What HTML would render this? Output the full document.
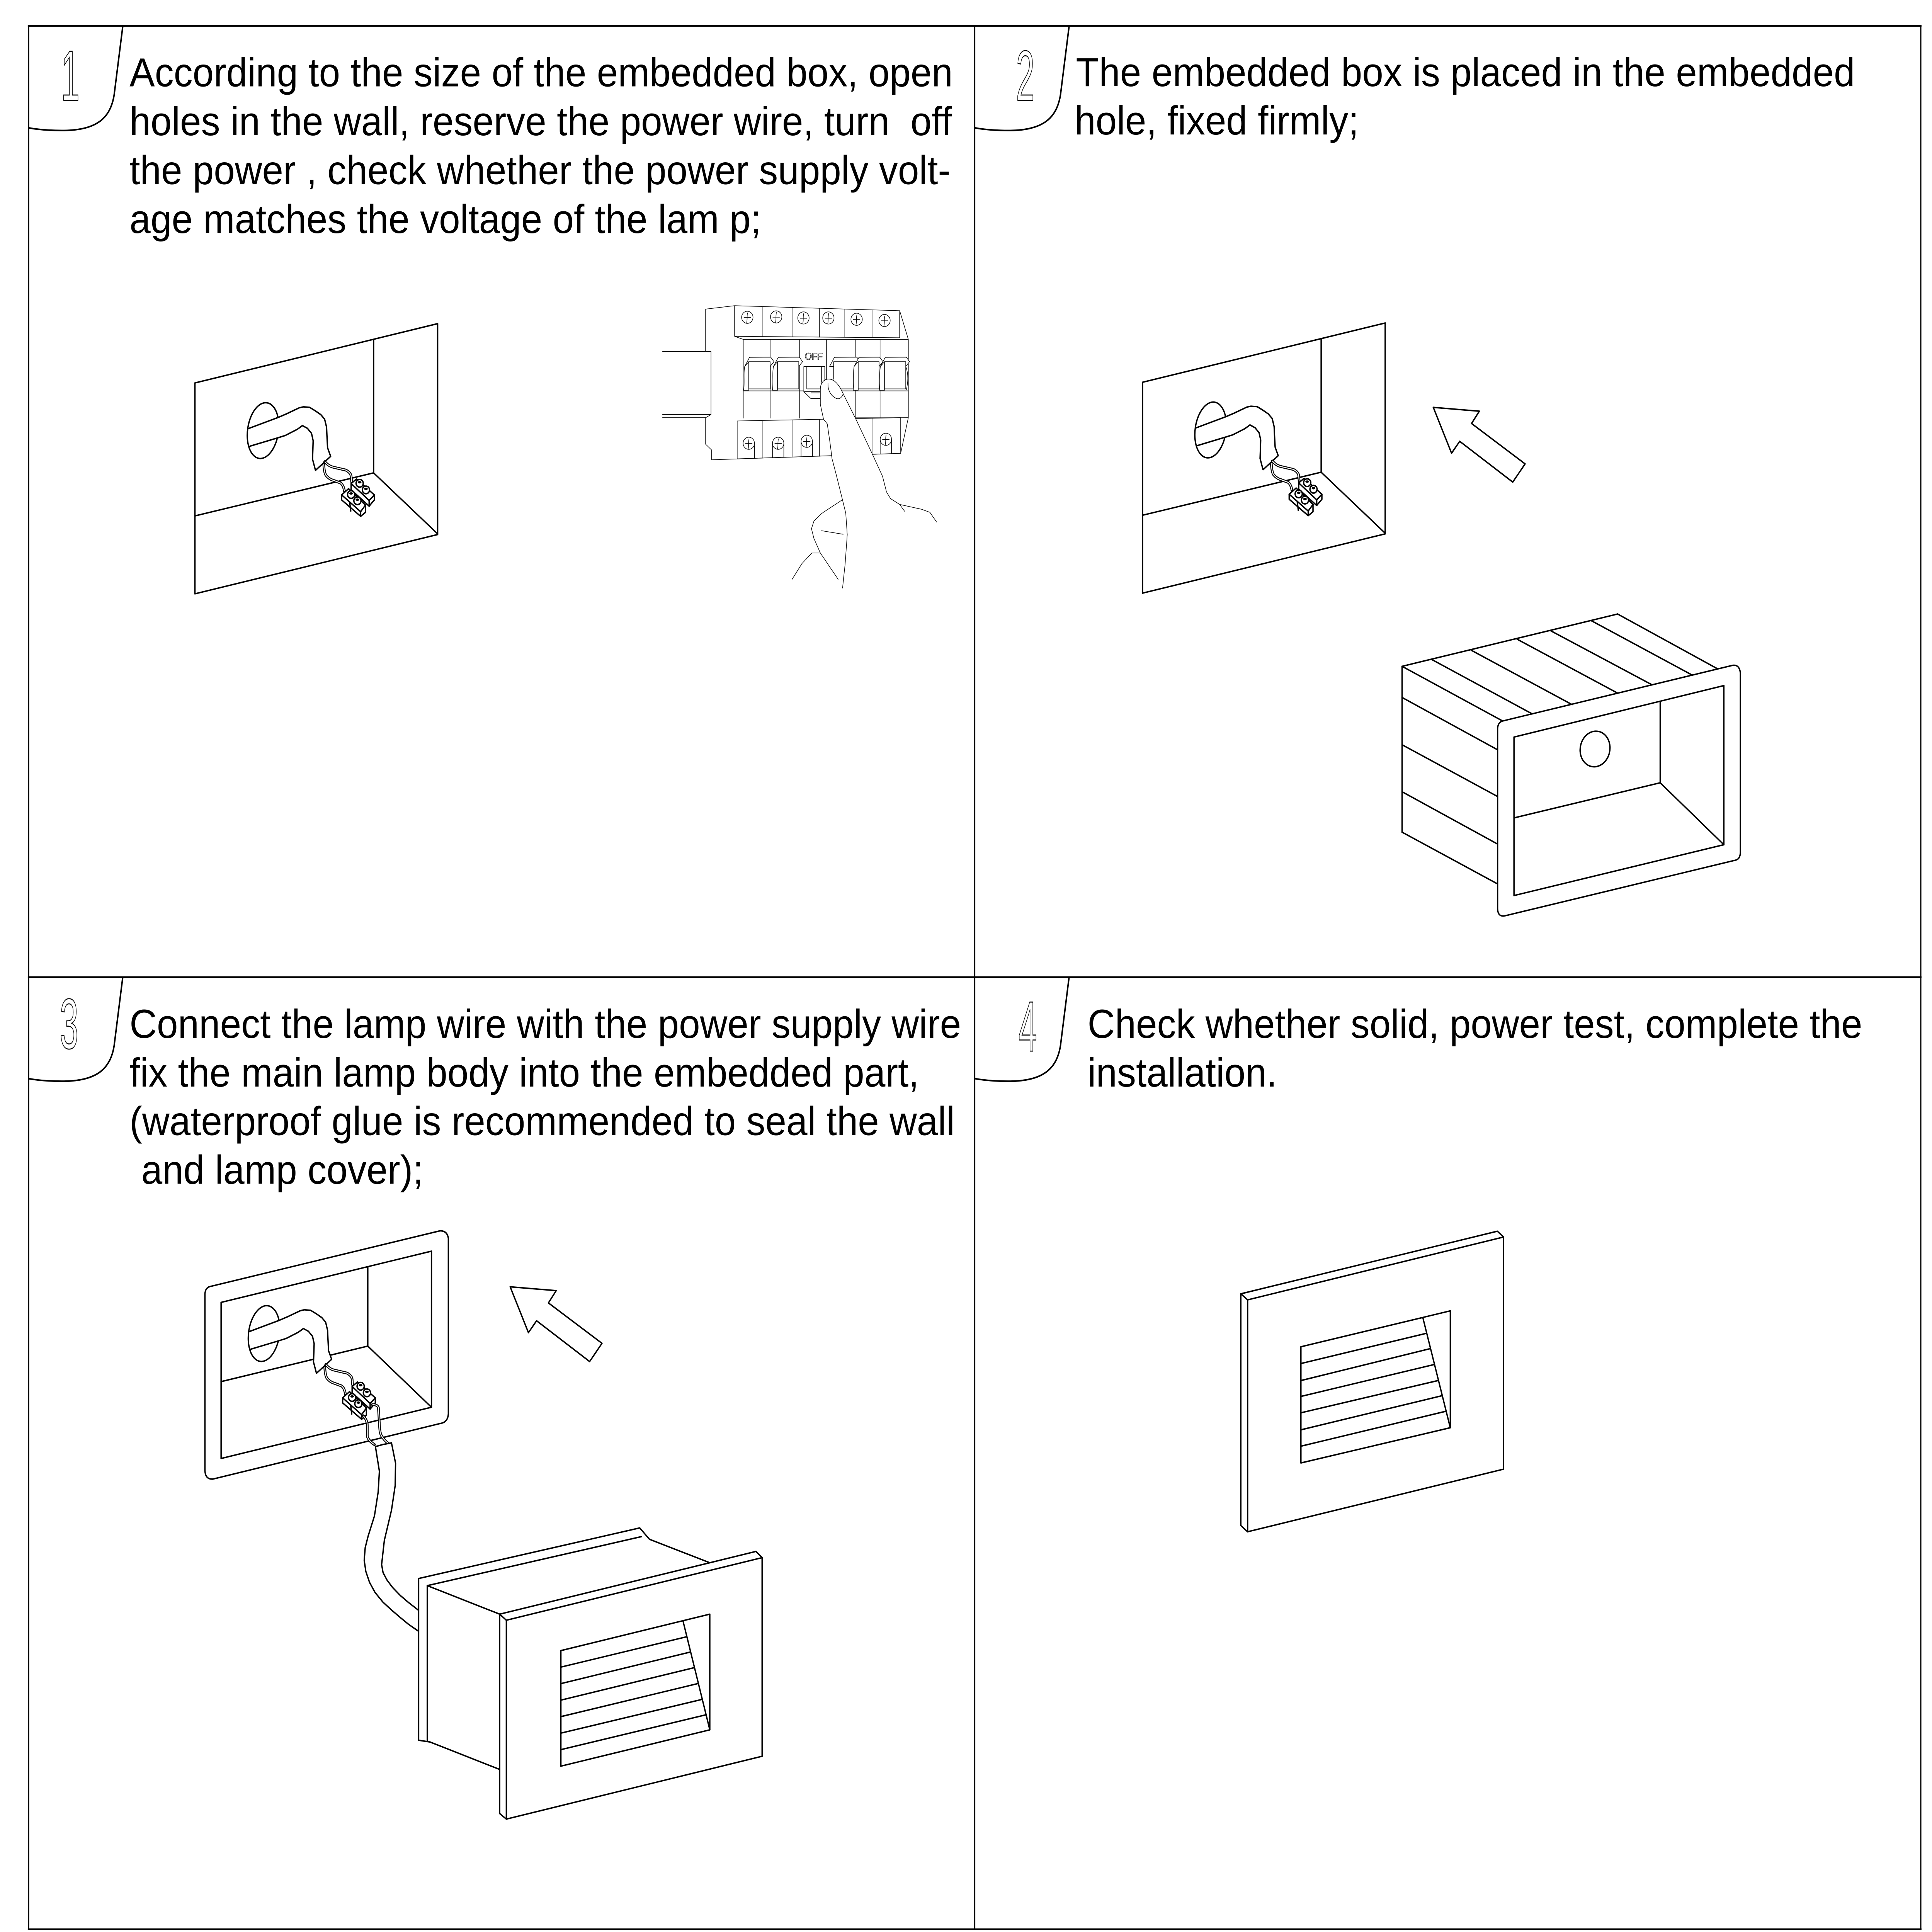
<!DOCTYPE html>
<html><head><meta charset="utf-8">
<style>
html,body{margin:0;padding:0;background:#fff;overflow:hidden;width:100%;height:100%;}
svg{display:block;width:100vw;height:100vh;}
.t{font-family:"Liberation Sans",Arial,sans-serif;font-size:30.7px;fill:#000;white-space:pre;}
.n{font-family:"Liberation Sans",Arial,sans-serif;font-size:54px;fill:none;stroke:#000;stroke-width:0.75;}
.d{fill:none;stroke:#000;stroke-width:1.1;stroke-linejoin:round;stroke-linecap:round;}
.w{fill:#fff;stroke:#000;stroke-width:1.1;stroke-linejoin:round;}
.b{fill:none;stroke:#000;stroke-width:0.45;stroke-linejoin:round;stroke-linecap:round;}
.bw{fill:#fff;stroke:#000;stroke-width:0.45;stroke-linejoin:round;}
</style></head><body>
<svg width="6107" height="5706" viewBox="0 0 1565.9 1463.1" preserveAspectRatio="none" xmlns="http://www.w3.org/2000/svg">
<rect width="1565.9" height="1463.1" fill="#fff"/>
<defs>
  <g id="pipe">
    <ellipse cx="213.2" cy="326.1" rx="12.5" ry="21.3" transform="rotate(9 213.2 326.1)" class="d"/>
    <polygon points="218,318.7 225.5,316.1 232,313.5 242.6,308.8 245.9,308.1 251,308.5 255.7,311.2 260,314 263.1,317.4 264.7,323.6 265,330 265.5,339.1 268,345.6 255.7,356.2 253.3,347.7 253.6,340 253.8,333.7 252.5,328.2 249.2,324.4 245.1,322.3 241,325.1 231.2,329.8 224.7,331.7 218,333.6" fill="#fff" stroke="none"/>
    <polyline class="d" points="201.8,324.4 225.5,316.1 232,313.5 242.6,308.8 245.9,308.1 251,308.5 255.7,311.2 260,314 263.1,317.4 264.7,323.6 265,330 265.5,339.1 268,345.6 255.7,356.2 253.3,347.7 253.6,340 253.8,333.7 252.5,328.2 249.2,324.4 245.1,322.3 241,325.1 231.2,329.8 224.7,331.7 202.6,337.9"/>
    <path d="M263.2,349.6 C265.5,352 267.5,353.2 270.1,353.8 L280.3,356 C283,357.3 284.4,359 284.6,360.7 L285,365" fill="none" stroke="#000" stroke-width="2.1" stroke-linecap="round"/>
    <path d="M263.2,349.6 C265.5,352 267.5,353.2 270.1,353.8 L280.3,356 C283,357.3 284.4,359 284.6,360.7 L285,365" fill="none" stroke="#fff" stroke-width="0.7"/>
    <path d="M262.4,351.3 C262.6,355 263,358 264.1,359.8 C266,362 268,363.2 270.1,363.7 L276.1,365.8 C277.8,367 278.8,369.5 279.1,371.8" fill="none" stroke="#000" stroke-width="2.1" stroke-linecap="round"/>
    <path d="M262.4,351.3 C262.6,355 263,358 264.1,359.8 C266,362 268,363.2 270.1,363.7 L276.1,365.8 C277.8,367 278.8,369.5 279.1,371.8" fill="none" stroke="#fff" stroke-width="0.7"/>
    <polygon class="w" points="284.6,366.2 288.9,362.8 303.4,374.8 303.4,378.6 299.2,383.3 284.6,370.9"/>
    <polyline class="d" points="284.6,366.2 299.2,379 303.4,374.8"/>
    <line class="d" x1="299.2" y1="379" x2="299.2" y2="383.3"/>
    <polygon class="w" points="276.9,374.8 282.5,370.1 296.2,382.5 296.2,388 292.3,391 276.9,378.6"/>
    <polyline class="d" points="276.9,374.8 292.3,387.5 296.2,382.5"/>
    <line class="d" x1="292.3" y1="387.5" x2="292.3" y2="391"/>
    <line class="d" x1="283.5" y1="381" x2="284.3" y2="387"/>
    <g class="w">
      <circle cx="291.5" cy="366" r="2.9"/>
      <circle cx="296.6" cy="371" r="2.9"/>
      <circle cx="284.6" cy="374.5" r="2.9"/>
      <circle cx="289.7" cy="379.2" r="2.9"/>
    </g>
    <g fill="#000">
      <ellipse cx="291.5" cy="365.2" rx="1.5" ry="0.9"/>
      <ellipse cx="296.6" cy="370.2" rx="1.5" ry="0.9"/>
      <ellipse cx="284.6" cy="373.7" rx="1.5" ry="0.9"/>
      <ellipse cx="289.7" cy="378.4" rx="1.5" ry="0.9"/>
    </g>
  </g>
  <g id="wall">
    <polygon class="d" points="158,290 354.7,245.1 354.7,404.8 158,449.7"/>
    <line class="d" x1="302.8" y1="257.1" x2="302.8" y2="358.1"/>
    <line class="d" x1="158" y1="390.7" x2="302.8" y2="358.1"/>
    <line class="d" x1="302.8" y1="358.1" x2="354.7" y2="404.3"/>
    <use href="#pipe"/>
  </g>
  <polygon id="arrow" class="d" points="1161.7,308.5 1199,311.4 1192.7,320.7 1236.1,351.3 1226.1,365.1 1183.1,334.2 1176.5,343.2"/>
  <path id="tab" d="M99.5,20 L92.5,72 C89.5,89 79,98.5 52,98.8 C40,98.9 30,98 23,96.8" fill="none" stroke="#000" stroke-width="1.2"/>
</defs>

<g stroke="#000" fill="none">
  <line x1="22.5" y1="19.6" x2="1557.4" y2="19.6" stroke-width="1.4"/>
  <line x1="22.5" y1="740" x2="1557.4" y2="740" stroke-width="1.3"/>
  <line x1="22.5" y1="1461" x2="1557.4" y2="1461" stroke-width="1.3"/>
  <line x1="23.2" y1="19" x2="23.2" y2="1461.6" stroke-width="1"/>
  <line x1="790" y1="19" x2="790" y2="1461.6" stroke-width="1"/>
  <line x1="1556.8" y1="19" x2="1556.8" y2="1461.6" stroke-width="1"/>
</g>

<use href="#tab"/>
<use href="#tab" transform="translate(767,0)"/>
<use href="#tab" transform="translate(0,720)"/>
<use href="#tab" transform="translate(767,720)"/>

<text class="n" text-anchor="middle" transform="translate(57,76) scale(0.5,1)">1</text>
<text class="n" text-anchor="middle" transform="translate(831,76) scale(0.5,1)">2</text>
<text class="n" text-anchor="middle" transform="translate(56,794) scale(0.5,1)">3</text>
<text class="n" text-anchor="middle" transform="translate(833,796) scale(0.5,1)">4</text>

<text class="t" x="105" y="65.4">According to the size of the embedded box, open</text>
<text class="t" x="105" y="102.4">holes in the wall, reserve the power wire, turn  off</text>
<text class="t" x="105" y="139.4">the power , check whether the power supply volt-</text>
<text class="t" x="105" y="176.4">age matches the voltage of the lam p;</text>

<text class="t" x="872" y="65.2">The embedded box is placed in the embedded</text>
<text class="t" x="871" y="101.9">hole, fixed firmly;</text>

<text class="t" x="105" y="786">Connect the lamp wire with the power supply wire</text>
<text class="t" x="105" y="822.8">fix the main lamp body into the embedded part,</text>
<text class="t" x="105" y="859.6">(waterproof glue is recommended to seal the wall</text>
<text class="t" x="114.5" y="896.5">and lamp cover);</text>

<text class="t" x="881.5" y="786">Check whether solid, power test, complete the</text>
<text class="t" x="881.5" y="822.8">installation.</text>

<use href="#wall"/>

<g>
  <polyline class="b" points="537,266.2 576.3,266.2 576.3,313.9 537,313.9"/>
  <polyline class="b" points="537,316.3 572,316.3 576.3,313.9"/>
  <polyline class="b" points="571.9,266.2 571.9,234.1 595.4,231.5"/>
  <polyline class="b" points="571.9,316.3 571.9,336.4 576.8,340.8 576.8,348.2 730,343.3"/>
  <polygon class="bw" points="595.4,231.5 729.2,235.3 729.2,255.8 595.4,254.7"/>
  <line class="b" x1="729.2" y1="235.3" x2="736.2" y2="257"/>
  <g class="b">
    <line x1="618.3" y1="232.2" x2="618.3" y2="255"/>
    <line x1="642" y1="232.8" x2="642" y2="255.1"/>
    <line x1="664.1" y1="233.5" x2="664.1" y2="255.3"/>
    <line x1="684.2" y1="234" x2="684.2" y2="255.4"/>
    <line x1="706.8" y1="234.7" x2="706.8" y2="255.6"/>
  </g>
  <g class="b">
    <circle cx="605.7" cy="240.3" r="4.6"/><path d="M603,240.5 H608.4 M605.9,237 C605.2,239.5 605.9,241.5 605.2,244.5"/>
    <circle cx="629.1" cy="240" r="4.6"/><path d="M626.4,240.2 H631.8 M629.3,236.7 C628.6,239.2 629.3,241.2 628.6,244.2"/>
    <circle cx="651.2" cy="240.8" r="4.6"/><path d="M648.5,241 H653.9 M651.4,237.5 C650.7,240 651.4,242 650.7,245"/>
    <circle cx="671.4" cy="240.8" r="4.6"/><path d="M668.7,241 H674.1 M671.6,237.5 C670.9,240 671.6,242 670.9,245"/>
    <circle cx="694.3" cy="241.8" r="4.6"/><path d="M691.6,242 H697 M694.5,238.5 C693.8,241 694.5,243 693.8,246"/>
    <circle cx="716.9" cy="242.7" r="4.6"/><path d="M714.2,242.9 H719.6 M717.1,239.4 C716.4,241.9 717.1,243.9 716.4,246.9"/>
  </g>
  <polyline class="b" points="595.4,254.7 602.4,257 736.2,257"/>
  <g class="b">
    <line x1="602.4" y1="257" x2="602.4" y2="316.6"/>
    <line x1="624.8" y1="257" x2="624.8" y2="316.6"/>
    <line x1="647.9" y1="257" x2="647.9" y2="316.6"/>
    <line x1="669.8" y1="257" x2="669.8" y2="296"/>
    <line x1="693.2" y1="257" x2="693.2" y2="316.6"/>
    <line x1="713.3" y1="257" x2="713.3" y2="316.6"/>
    <line x1="736.2" y1="257" x2="736.2" y2="316.3"/>
    <line x1="602.4" y1="296" x2="736.2" y2="296"/>
    <line x1="693.2" y1="316.4" x2="736.2" y2="316.3"/>
    <line x1="736.2" y1="316.3" x2="730" y2="343.3"/>
  </g>
  <polygon class="bw" points="597.5,318.8 730,316.3 730,343.3 597.5,347.5"/>
  <g class="b">
    <line x1="618.3" y1="318.4" x2="618.3" y2="346.9"/>
    <line x1="642" y1="318" x2="642" y2="346.2"/>
    <line x1="664.1" y1="317.6" x2="664.1" y2="345.5"/>
    <line x1="706.8" y1="316.8" x2="706.8" y2="344"/>
    <circle cx="606.9" cy="335.7" r="4.6"/><path d="M604.2,335.9 H609.6 M607.1,332.4 C606.4,334.9 607.1,336.9 606.4,339.9 M611.5,336 V347.2"/>
    <circle cx="630.7" cy="335.7" r="4.6"/><path d="M628,335.9 H633.4 M630.9,332.4 C630.2,334.9 630.9,336.9 630.2,339.9 M626.1,336 V346.6 M635.3,336 V346.4"/>
    <circle cx="653.9" cy="334.2" r="4.6"/><path d="M651.2,334.4 H656.6 M654.1,330.9 C653.4,333.4 654.1,335.4 653.4,338.4 M649.3,334.5 V346 M658.5,334.5 V345.8"/>
    <circle cx="718" cy="332.7" r="4.6"/><path d="M715.3,332.9 H720.7 M718.2,329.4 C717.5,331.9 718.2,333.9 717.5,336.9 M713.4,333 V343.7 M722.6,333 V343.5"/>
  </g>
  <g class="bw">
    <path d="M603.6,277.5 L607.5,270.6 L624.7,270.5 L627.3,273.9 L624.2,277.5 Z"/>
    <path d="M603.6,277.5 C602.5,283 603.6,289 602.8,295.5 L606.9,295.5 L606.9,273.9 Z"/>
    <rect x="606.9" y="273.9" width="17.3" height="20.6"/>
    <path d="M626.9,277.5 L630.8,270.6 L647.9,270.5 L650.5,273.9 L647.4,277.5 Z"/>
    <path d="M626.9,277.5 C625.8,283 626.9,289 626.1,295.5 L630.2,295.5 L630.2,273.9 Z"/>
    <rect x="630.2" y="273.9" width="17.2" height="20.6"/>
    <path d="M672.4,277.5 L676.3,270.6 L694.5,270.5 L697.1,273.9 L694,277.5 Z"/>
    <rect x="675.7" y="273.9" width="18.3" height="20.6"/>
    <path d="M692.3,277.5 L696.2,270.6 L713,270.5 L715.6,273.9 L712.5,277.5 Z"/>
    <path d="M692.3,277.5 C691.2,283 692.3,289 691.5,295.5 L695.6,295.5 L695.6,273.9 Z"/>
    <rect x="695.6" y="273.9" width="16.9" height="20.6"/>
    <path d="M713.6,277.5 L717.5,270.6 L734.6,270.5 L737.2,273.9 L734.1,277.5 Z"/>
    <path d="M713.6,277.5 C712.5,283 713.6,289 712.8,295.5 L716.9,295.5 L716.9,273.9 Z"/>
    <rect x="716.9" y="273.9" width="17.2" height="20.6"/>
    <path d="M734.1,277.5 C736.5,283 736,290 734.5,295.5"/>
  </g>
  <g class="bw">
    <rect x="651.5" y="277.6" width="17" height="19"/>
    <rect x="653.9" y="277.6" width="12" height="16.9"/>
    <polygon points="651.5,296.6 657.2,301.8 668,301.8 668,296.6"/>
    <line x1="657.2" y1="297.5" x2="668" y2="297.5"/>
  </g>
  <text x="652.3" y="272.4" font-family="Liberation Sans, sans-serif" font-size="7.4" textLength="14.5" lengthAdjust="spacing" fill="none" stroke="#000" stroke-width="0.3">OFF</text>
  <polygon fill="#fff" points="664.9,306 664.9,294.5 666,289.5 671.5,287 677,287.5 681,292 683.4,298.2 694,318 707,343.8 709,349 674.6,349 672.8,335.7 670.5,321 667.5,317.5"/>
  <path class="b" d="M664.9,306.3 L664.9,294.5 C665,290 668,287 671.5,287 C676,287 680,291 683.4,298.2"/>
  <path class="b" d="M671.1,290.5 C670.8,295.5 673.5,300 678,301.8 C680.6,302.6 682.6,300.6 683.4,298.2"/>
  <polyline class="b" points="683.4,298.2 694,318 707,343.8 715.3,360.7 718.5,372.5 721.8,377.6 729.2,382 733.2,387.2"/>
  <polyline class="b" points="729.2,382 747.1,385.7 753.7,388 759.1,395.3"/>
  <polyline class="b" points="664.9,306.3 667.5,317.5 670.5,321 672.8,335.7 674.4,347.5 677.7,359.2 682.6,377.6 685.5,388.7 686.7,404.9 685,426.9 682.9,445.3"/>
  <polyline class="b" points="682.9,378.4 666.2,388.7 659.7,394.6 657.7,400.4 659.7,407.8 664.9,418.8 679.3,438.7"/>
  <polyline class="b" points="664.9,418.8 658,418.8 649.9,426.9 642,438.7"/>
  <line class="b" x1="665.9" y1="401.9" x2="683.4" y2="404.6"/>
</g>

<use href="#wall" transform="translate(768,-0.5)"/>
<use href="#arrow"/>
<g>
  <g class="d">
    <line x1="1136.4" y1="504.6" x2="1311.1" y2="465"/>
    <line x1="1311.1" y1="465" x2="1391.9" y2="506.4"/>
    <line x1="1160.4" y1="499.4" x2="1241.8" y2="540.6"/>
    <line x1="1192.8" y1="492.6" x2="1274.2" y2="533.6"/>
    <line x1="1229.7" y1="484.1" x2="1311.1" y2="524.9"/>
    <line x1="1257.1" y1="477.8" x2="1339" y2="518.6"/>
    <line x1="1289.9" y1="470.1" x2="1371.3" y2="511.1"/>
    <line x1="1136.4" y1="504.6" x2="1217.9" y2="546"/>
    <line x1="1136.4" y1="504.6" x2="1136.4" y2="630.2"/>
    <line x1="1136.4" y1="528.2" x2="1213.8" y2="567.8"/>
    <line x1="1136.4" y1="564" x2="1213.8" y2="603.2"/>
    <line x1="1136.4" y1="599.6" x2="1213.8" y2="639.2"/>
    <line x1="1136.4" y1="630.2" x2="1213.8" y2="669.4"/>
  </g>
  <path class="d" d="M1217.9,546 L1404.1,503.9 Q1409.8,503 1410.6,509.7 L1410.6,645.5 Q1410.4,650.6 1406.7,651.4 L1219.5,693.6 Q1214,694.5 1213.8,688 L1213.8,551.9 Q1214,547 1217.9,546 Z"/>
  <polygon class="d" points="1227.1,558.2 1397.2,519.2 1397.2,639.7 1227.1,678.2"/>
  <line class="d" x1="1345.6" y1="531.8" x2="1345.6" y2="592.8"/>
  <line class="d" x1="1227.1" y1="619.4" x2="1345.6" y2="592.8"/>
  <line class="d" x1="1345.6" y1="592.8" x2="1397.2" y2="639.7"/>
  <ellipse class="d" cx="1292.8" cy="567.2" rx="12" ry="13.6" transform="rotate(15 1292.8 567.2)"/>
</g>

<path class="d" d="M170.2,974.3 L356.6,932.1 Q362.5,932 363.4,937.8 L363.4,1070.7 Q363,1076.5 358.2,1077.7 L172.6,1120.1 Q166.3,1120.5 166.1,1113.4 L166.1,979.8 Q166.5,975.2 170.2,974.3 Z"/>
<polygon class="d" points="179.2,986.3 349.7,947.5 349.7,1065.7 179.2,1104.5"/>
<line class="d" x1="298.1" y1="959.9" x2="298.1" y2="1019.4"/>
<line class="d" x1="179.2" y1="1046.3" x2="298.1" y2="1019.4"/>
<line class="d" x1="298.1" y1="1019.4" x2="349.7" y2="1065.7"/>
<use href="#pipe" transform="translate(0.8,683.8)"/>
<path d="M294.5,1072.2 C297,1075 297.7,1077 297.7,1080 L297.7,1087.7 C298.5,1090.5 301,1092.5 303.5,1094" fill="none" stroke="#000" stroke-width="2.1" stroke-linecap="round"/>
<path d="M294.5,1072.2 C297,1075 297.7,1077 297.7,1080 L297.7,1087.7 C298.5,1090.5 301,1092.5 303.5,1094" fill="none" stroke="#fff" stroke-width="0.7"/>
<path d="M301.8,1063.7 C304,1063.8 306,1064 306.7,1066 L307.5,1078.4 C307.8,1083 308,1085 309,1087 C310.5,1089.5 312.5,1091.5 314.9,1093.2" fill="none" stroke="#000" stroke-width="2.1" stroke-linecap="round"/>
<path d="M301.8,1063.7 C304,1063.8 306,1064 306.7,1066 L307.5,1078.4 C307.8,1083 308,1085 309,1087 C310.5,1089.5 312.5,1091.5 314.9,1093.2" fill="none" stroke="#fff" stroke-width="0.7"/>
<polygon fill="#fff" points="304.3,1095.5 310,1094 317.3,1092.7 320.6,1108 320.3,1125 317.3,1143.7 311.5,1166.6 309.3,1184.9 310.5,1191 313.7,1196.6 318,1202 324.5,1208.3 331,1213.5 338.7,1219.1 338.7,1235 331,1230 324.5,1225 317,1219 310.4,1213.3 304,1206 299.5,1198.3 296.5,1190 295.2,1181.6 296,1172 298.4,1163.2 303.5,1148 306.5,1130 307.5,1114.2"/>
<polyline class="d" points="304.3,1095.5 310,1094 317.3,1092.7"/>
<polyline class="d" points="304.3,1095.5 307.5,1114.2 306.5,1130 303.5,1148 298.4,1163.2 296,1172 295.2,1181.6 296.5,1190 299.5,1198.3 304,1206 310.4,1213.3 317,1219 324.5,1225 331,1230 338.7,1235"/>
<polyline class="d" points="317.3,1092.7 320.6,1108 320.3,1125 317.3,1143.7 311.5,1166.6 309.3,1184.9 310.5,1191 313.7,1196.6 318,1202 324.5,1208.3 331,1213.5 338.7,1219.1"/>
<use href="#arrow" transform="translate(-748.2,666)"/>
<g class="d">
  <polyline points="339.3,1317.9 339.3,1195.4 518.5,1157.1 526.4,1165.7 574.6,1183.2"/>
  <line x1="339.3" y1="1317.9" x2="348.5" y2="1319.2"/>
  <line x1="346.3" y1="1200.8" x2="519.8" y2="1163.7"/>
  <line x1="346.3" y1="1200.8" x2="346.3" y2="1318.4"/>
  <line x1="346.3" y1="1200.8" x2="405" y2="1222.4"/>
  <line x1="348.5" y1="1319.2" x2="405" y2="1340"/>
  <polyline points="410.4,1227 405,1222.4 405,1373.4 410.4,1377.6"/>
  <polyline points="405,1222.4 612.7,1174.9 617.7,1179.6"/>
  <polygon points="410.4,1227 617.7,1179.6 617.7,1330 410.4,1377.6"/>
  <polygon points="454.6,1250 575.3,1222.4 575.3,1310 454.6,1337.5"/>
  <line x1="553.6" y1="1227.6" x2="575.3" y2="1310"/>
  <line x1="454.6" y1="1262.5" x2="556.2" y2="1239.6"/>
  <line x1="454.6" y1="1275" x2="559.4" y2="1251.1"/>
  <line x1="454.6" y1="1287.5" x2="562.3" y2="1263"/>
  <line x1="454.6" y1="1300" x2="565.5" y2="1275"/>
  <line x1="454.6" y1="1312.5" x2="568.8" y2="1287"/>
  <line x1="454.6" y1="1325" x2="571.8" y2="1298.7"/>
</g>

<g class="d">
  <polyline points="1011.2,984.4 1005.7,979.8 1005.7,1155.3 1011.2,1160"/>
  <polyline points="1005.7,979.8 1213.6,932.4 1218.6,936.8"/>
  <polygon points="1011.2,984.4 1218.6,936.8 1218.6,1112.6 1011.2,1160"/>
  <polygon points="1054.4,1019.9 1175.5,992.7 1175.5,1081.2 1054.4,1107.9"/>
  <line x1="1153.3" y1="998.1" x2="1175.4" y2="1081"/>
  <line x1="1054.4" y1="1032.6" x2="1155.7" y2="1009.8"/>
  <line x1="1054.4" y1="1045.5" x2="1158.8" y2="1021.4"/>
  <line x1="1054.4" y1="1057.5" x2="1162.2" y2="1033.4"/>
  <line x1="1054.4" y1="1069.9" x2="1165.5" y2="1045.5"/>
  <line x1="1054.4" y1="1082.8" x2="1168.6" y2="1057"/>
  <line x1="1054.4" y1="1095.2" x2="1171.7" y2="1068.8"/>
</g>
</svg>
</body></html>
